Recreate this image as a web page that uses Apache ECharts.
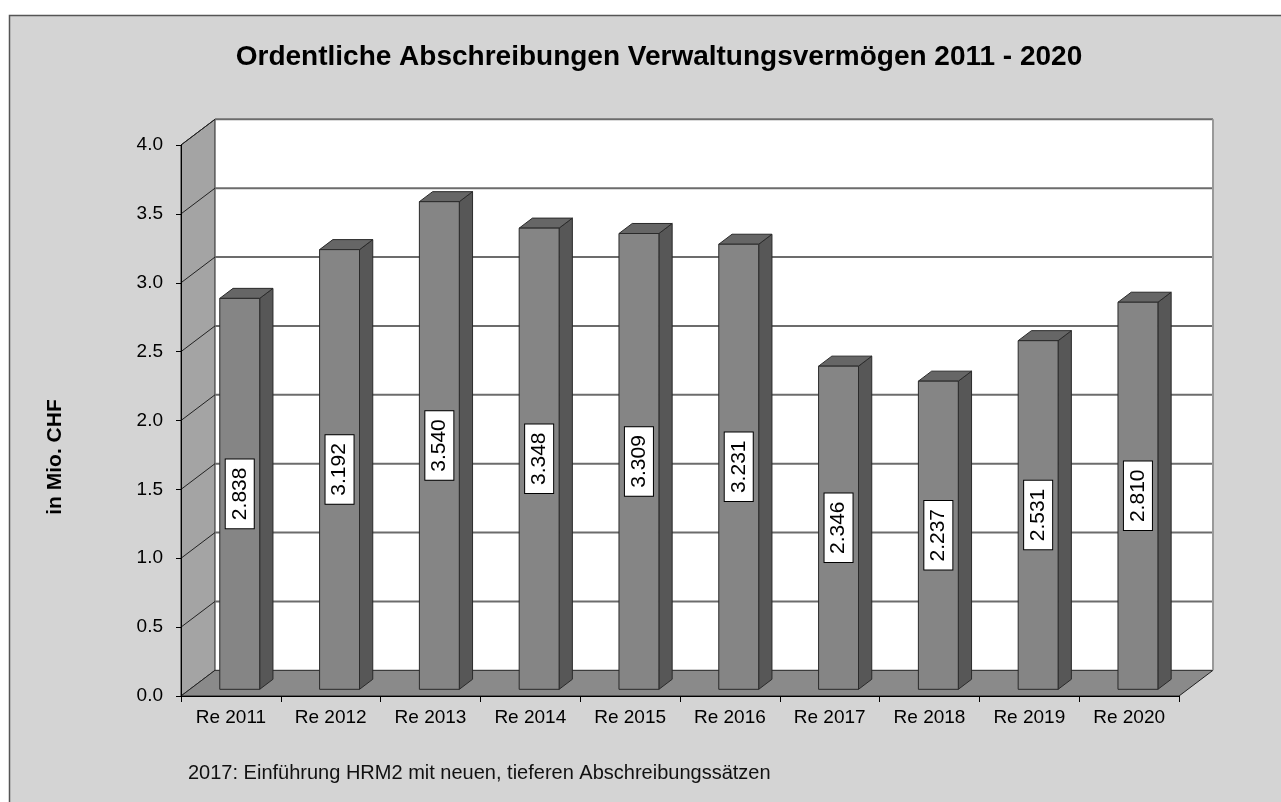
<!DOCTYPE html>
<html>
<head>
<meta charset="utf-8">
<script src="https://cdn.jsdelivr.net/npm/echarts@6/dist/echarts.min.js"></script>
<style>
html,body{margin:0;padding:0;background:#fff;}
#chart{width:1281px;height:802px;}
</style>
</head>
<body>
<div id="chart"></div>
<script>
// ---- data ----
const categories = ['Re 2011','Re 2012','Re 2013','Re 2014','Re 2015','Re 2016','Re 2017','Re 2018','Re 2019','Re 2020'];
const values = [2.838, 3.192, 3.540, 3.348, 3.309, 3.231, 2.346, 2.237, 2.531, 2.810];
const yTicks = [0, 0.5, 1.0, 1.5, 2.0, 2.5, 3.0, 3.5, 4.0];
const titleText = 'Ordentliche Abschreibungen Verwaltungsvermögen 2011 - 2020';
const yAxisName = 'in Mio. CHF';
const footnote = '2017: Einführung HRM2 mit neuen, tieferen Abschreibungssätzen';

// ---- 3D look constants ----
const DX = 34, DY = -25.7;     // depth offset of the back wall
const F0 = 0.26, F1 = 0.65;    // bar depth span (fraction of depth)
const FONT = "'Liberation Sans', Arial, sans-serif";

const chart = echarts.init(document.getElementById('chart'));

function sceneRender(params, api) {
  const cs = params.coordSys;
  const x0 = cs.x, x1 = cs.x + cs.width;
  const yT = api.coord([0, yTicks[yTicks.length - 1]])[1];
  const yB = api.coord([0, yTicks[0]])[1];
  const ch = [];
  ch.push({type:'rect', shape:{x:x0+DX, y:yT+DY, width:x1-x0, height:yB-yT},
    style:{fill:'#ffffff', stroke:null}});
  ch.push({type:'polygon', shape:{points:[[x0,yT],[x0+DX,yT+DY],[x0+DX,yB+DY],[x0,yB]]},
    style:{fill:'#a4a4a4', stroke:'#222', lineWidth:1}});
  ch.push({type:'polygon', shape:{points:[[x0,yB],[x0+DX,yB+DY],[x1+DX,yB+DY],[x1,yB]]},
    style:{fill:'#8a8a8a', stroke:'#222', lineWidth:1}});
  yTicks.forEach(function(t){
    if (t === 0) return;
    const y = api.coord([0, t])[1];
    ch.push({type:'line', shape:{x1:x0+DX, y1:y+DY, x2:x1+DX, y2:y+DY},
      style:{stroke:'#6c6c6c', lineWidth:2}});
    ch.push({type:'line', shape:{x1:x0, y1:y, x2:x0+DX, y2:y+DY},
      style:{stroke:'#222', lineWidth:1}});
  });
  ch.push({type:'line', shape:{x1:x1+DX, y1:yT+DY, x2:x1+DX, y2:yB+DY},
    style:{stroke:'#999', lineWidth:2}});
  return {type:'group', children:ch};
}

function barRender(params, api) {
  const i = api.value(0), v = api.value(1);
  const top = api.coord([i, v]);
  const base = api.coord([i, 0]);
  const bw = api.size([1, 0])[0];
  const w = bw * 0.4;
  const fx = top[0] + DX * F0 - w / 2;
  const fy = top[1] + DY * F0;
  const fb = base[1] + DY * F0;
  const ddx = DX * (F1 - F0), ddy = DY * (F1 - F0);
  const edge = '#2a2a2a';
  return {type:'group', children:[
    {type:'polygon', shape:{points:[[fx+w,fy],[fx+w+ddx,fy+ddy],[fx+w+ddx,fb+ddy],[fx+w,fb]]},
      style:{fill:'#575757', stroke:edge, lineWidth:1}},
    {type:'polygon', shape:{points:[[fx,fy],[fx+ddx,fy+ddy],[fx+w+ddx,fy+ddy],[fx+w,fy]]},
      style:{fill:'#666666', stroke:edge, lineWidth:1}},
    {type:'rect', shape:{x:fx, y:fy, width:w, height:fb-fy},
      style:{fill:'#858585', stroke:edge, lineWidth:1}},
    {type:'text', x:fx + w/2, y:(fy+fb)/2, rotation:Math.PI/2,
      style:{text:values[i].toFixed(3), fill:'#000', font:'21px ' + FONT,
        align:'center', verticalAlign:'middle', backgroundColor:'#fff',
        borderColor:'#000', borderWidth:1, padding:[4,8,3,8]}}
  ]};
}

const option = {
  animation: false,
  backgroundColor: '#ffffff',
  graphic: [
    {type:'rect', z:-10, shape:{x:9.5, y:15.5, width:1300, height:820},
      style:{fill:'#d4d4d4', stroke:'#555', lineWidth:1.5}},
    {type:'text', left:188, top:763, z:10,
      style:{text:footnote, fill:'#111', font:'20px ' + FONT}},
    {type:'text', x:55, y:457, rotation:Math.PI/2, z:10,
      style:{text:yAxisName, fill:'#000', font:'bold 21px ' + FONT,
        align:'center', verticalAlign:'middle'}}
  ],
  title: {
    text: titleText, left: 654, top: 38, textAlign: 'center',
    textStyle: {fontFamily: FONT, fontSize: 28, fontWeight: 'bold', color: '#000'}
  },
  grid: {left: 181, right: 102, top: 145, bottom: 106, containLabel: false},
  xAxis: {
    type: 'category', data: categories,
    axisLine: {show: true, lineStyle: {color: '#000', width: 1}},
    axisTick: {show: true, length: 6, lineStyle: {color: '#000'}},
    axisLabel: {color: '#000', fontSize: 19, fontFamily: FONT, margin: 12},
    z: 5
  },
  yAxis: {
    type: 'value', min: 0, max: 4, interval: 0.5,
    axisLine: {show: true, lineStyle: {color: '#000', width: 1}},
    axisTick: {show: true, length: 5, lineStyle: {color: '#000'}},
    axisLabel: {color: '#000', fontSize: 19, fontFamily: FONT, margin: 18,
      formatter: function(v){ return v.toFixed(1); }},
    splitLine: {show: false},
    z: 5
  },
  series: [
    {type:'custom', name:'scene', renderItem: sceneRender, data:[[0,0]], clip:false, z:1, silent:true},
    {type:'custom', name:'Abschreibungen', renderItem: barRender,
      data: values.map(function(v,i){ return [i, v]; }),
      encode:{x:0, y:1}, clip:false, z:2}
  ]
};
chart.setOption(option);
</script>
</body>
</html>
